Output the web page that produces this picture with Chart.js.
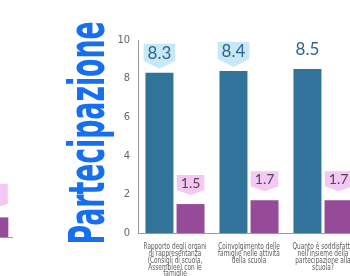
<!DOCTYPE html>
<html>
<head>
<meta charset="utf-8">
<script src="https://cdn.jsdelivr.net/npm/chart.js@4/dist/chart.umd.min.js"></script>
<style>
  html, body { margin: 0; padding: 0; width: 350px; height: 276px; overflow: hidden; background: #fff; }
  #prev { position: absolute; left: -25px; top: 0; }
  #main { position: absolute; left: 0; top: 0; }
</style>
</head>
<body>
<canvas id="prev" width="38" height="276"></canvas>
<canvas id="main" width="400" height="276"></canvas>
<script>
  // data
  const categories = [
    ['Rapporto degli organi', 'di rappresentanza', '(Consigli di scuola,', 'Assemblee) con le', 'famiglie'],
    ['Coinvolgimento delle', 'famiglie nelle attività', 'della scuola'],
    ['Quanto è soddisfatto', "nell'insieme della", 'partecipazione alla', 'scuola?']
  ];
  const averages = [8.3, 8.4, 8.5];
  const deviations = [1.5, 1.7, 1.7];
  const yTicks = [0, 2, 4, 6, 8, 10];
  const title = 'Partecipazione';

  // edge of the previous chart, cut by the frame
  const prevCategories = [''];
  const prevDeviations = [1.0];

  const narrow = "'Liberation Sans Narrow', 'DejaVu Sans Condensed', sans-serif";
  const blue = '#32739b';
  const purple = '#954b97';

  // callout styles per dataset
  const blueCallout = { fill: '#c8e8f6', text: '#2a668f', font: '17px Lato, sans-serif', h: 17, tip: 8, gap: 4 };
  const pinkCallout = { fill: '#f3c8f3', text: '#5a405a', font: '14px Lato, sans-serif', h: 15, tip: 5, gap: 9 };
  const hideBox = { 0: [2] }; // third blue label drawn without box

  const calloutPlugin = {
    id: 'callouts',
    afterDatasetsDraw(chart, args, opts) {
      const ctx = chart.ctx;
      chart.data.datasets.forEach((ds, di) => {
        const st = opts.styles[di];
        const meta = chart.getDatasetMeta(di);
        meta.data.forEach((bar, i) => {
          const txt = ds.data[i].toFixed(1);
          ctx.save();
          ctx.font = st.font;
          const w = Math.max(ctx.measureText(txt).width + 8, 26);
          const x = bar.x;
          const tipY = bar.y - st.gap;
          const bot = tipY - st.tip;
          const top = bot - st.h;
          const noBox = (opts.hide[di] || []).includes(i);
          if (!noBox) {
            ctx.fillStyle = st.fill;
            ctx.beginPath();
            ctx.moveTo(x - w / 2, top);
            ctx.lineTo(x + w / 2, top);
            ctx.lineTo(x + w / 2, bot);
            ctx.lineTo(x, tipY);
            ctx.lineTo(x - w / 2, bot);
            ctx.closePath();
            ctx.fill();
          }
          if (!opts.noText) {
            ctx.fillStyle = st.text;
            ctx.textAlign = 'center';
            ctx.textBaseline = 'middle';
            ctx.fillText(txt, x, top + st.h / 2 + 1);
          }
          ctx.restore();
        });
      });
    }
  };

  // condensed category labels under the x axis
  const xLabelPlugin = {
    id: 'xLabels',
    afterDraw(chart) {
      const ctx = chart.ctx;
      const xs = chart.scales.x;
      ctx.save();
      ctx.font = '8.3px ' + narrow;
      ctx.fillStyle = '#5a5a5a';
      ctx.textAlign = 'center';
      ctx.textBaseline = 'middle';
      chart.data.labels.forEach((lines, i) => {
        const x = xs.getPixelForTick(i);
        lines.forEach((line, k) => {
          ctx.save();
          ctx.translate(x, xs.top + 14 + k * 6.8);
          ctx.scale(0.78, 1);
          ctx.fillText(line, 0, 0);
          ctx.restore();
        });
      });
      ctx.restore();
    }
  };

  const titlePlugin = {
    id: 'sideTitle',
    afterDraw(chart) {
      const ctx = chart.ctx;
      ctx.save();
      ctx.translate(104, 133);
      ctx.rotate(-Math.PI / 2);
      ctx.font = 'bold 50px ' + narrow;
      ctx.fillStyle = '#156ff0';
      ctx.textAlign = 'center';
      ctx.textBaseline = 'alphabetic';
      ctx.fillText(title, 0, 0, 223);
      ctx.restore();
    }
  };

  new Chart(document.getElementById('main'), {
    type: 'bar',
    data: {
      labels: categories,
      datasets: [
        { data: averages, backgroundColor: blue },
        { data: deviations, backgroundColor: purple }
      ]
    },
    options: {
      responsive: false,
      animation: false,
      events: [],
      categoryPercentage: 0.84,
      barPercentage: 0.9,
      layout: { padding: { left: 108, top: 40, right: 40, bottom: 0 } },
      plugins: {
        legend: { display: false },
        tooltip: { enabled: false },
        callouts: { styles: [blueCallout, pinkCallout], hide: hideBox }
      },
      scales: {
        x: {
          grid: { display: false },
          border: { display: true, color: '#9a9a9a', width: 1 },
          ticks: { display: false },
          afterFit: (s) => { s.height = 43; }
        },
        y: {
          min: 0,
          max: 10,
          afterBuildTicks: (s) => { s.ticks = yTicks.map(v => ({ value: v })); },
          grid: { display: false, drawTicks: false },
          border: { display: true, color: '#9a9a9a', width: 1 },
          ticks: {
            color: '#666',
            font: { family: narrow, size: 11 },
            padding: 8
          },
          afterFit: (s) => { s.width = 30; }
        }
      }
    },
    plugins: [calloutPlugin, xLabelPlugin, titlePlugin]
  });

  new Chart(document.getElementById('prev'), {
    type: 'bar',
    data: {
      labels: prevCategories,
      datasets: [{ data: prevDeviations, backgroundColor: purple, barThickness: 28 }]
    },
    options: {
      responsive: false,
      animation: false,
      events: [],
      layout: { padding: { left: 0, top: 44, right: 0, bottom: 0 } },
      plugins: {
        legend: { display: false },
        tooltip: { enabled: false },
        callouts: { styles: [Object.assign({}, pinkCallout, { h: 20 })], hide: {}, noText: true }
      },
      scales: {
        x: {
          grid: { display: false },
          border: { display: true, color: '#9a9a9a', width: 1 },
          ticks: { display: false },
          afterFit: (s) => { s.height = 39; }
        },
        y: { display: false, min: 0, max: 10 }
      }
    },
    plugins: [calloutPlugin]
  });
</script>
</body>
</html>
